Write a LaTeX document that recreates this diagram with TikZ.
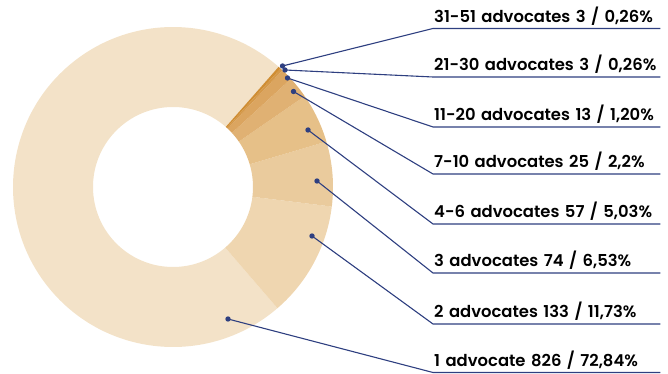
\documentclass[tikz,border=0pt]{standalone}
\usepackage{fontspec}
\setmainfont{Poppins}[BoldFont={Poppins SemiBold}]
\definecolor{sliceA}{HTML}{F3E2C8}
\definecolor{sliceB}{HTML}{EFD6B0}
\definecolor{sliceC}{HTML}{EACB9D}
\definecolor{sliceD}{HTML}{E6C088}
\definecolor{sliceE}{HTML}{E0B173}
\definecolor{sliceF}{HTML}{DBA560}
\definecolor{sliceG}{HTML}{D5994A}
\definecolor{sliceH}{HTML}{CF8D33}
\definecolor{leadblue}{HTML}{2E3F80}
\tikzset{
  lead/.style={draw=leadblue,line width=1.1pt},
  label/.style={anchor=south west,text width=225pt,inner xsep=1pt,inner ysep=6pt,
    text depth=0pt,font=\fontsize{16.4}{19}\selectfont\bfseries,text=black},
}
\begin{document}
\begin{tikzpicture}[x=1pt,y=1pt]
        \useasboundingbox (0,0) rectangle (668,374);
        %% Donut
        \begin{scope}[shift={(173,187)}]
        \fill[sliceA] (-49.256:160) arc[start angle=-49.256,end angle=-311.3,radius=160]
            -- (-311.3:80) arc[start angle=-311.3,end angle=-49.256,radius=80] -- cycle;
        \fill[sliceB] (-7.028:160) arc[start angle=-7.028,end angle=-49.256,radius=160]
            -- (-49.256:80) arc[start angle=-49.256,end angle=-7.028,radius=80] -- cycle;
        \fill[sliceC] (16.48:160) arc[start angle=16.48,end angle=-7.028,radius=160]
            -- (-7.028:80) arc[start angle=-7.028,end angle=16.48,radius=80] -- cycle;
        \fill[sliceD] (34.588:160) arc[start angle=34.588,end angle=16.48,radius=160]
            -- (16.48:80) arc[start angle=16.48,end angle=34.588,radius=80] -- cycle;
        \fill[sliceE] (42.508:160) arc[start angle=42.508,end angle=34.588,radius=160]
            -- (34.588:80) arc[start angle=34.588,end angle=42.508,radius=80] -- cycle;
        \fill[sliceF] (46.828:160) arc[start angle=46.828,end angle=42.508,radius=160]
            -- (42.508:80) arc[start angle=42.508,end angle=46.828,radius=80] -- cycle;
        \fill[sliceG] (47.764:160) arc[start angle=47.764,end angle=46.828,radius=160]
            -- (46.828:80) arc[start angle=46.828,end angle=47.764,radius=80] -- cycle;
        \fill[sliceH] (48.7:160) arc[start angle=48.7,end angle=47.764,radius=160]
            -- (47.764:80) arc[start angle=47.764,end angle=48.7,radius=80] -- cycle;
        \end{scope}
        %% Points on the slices
        \coordinate (dot31) at (282.5,308);
        \coordinate (dot21) at (285,304);
        \coordinate (dot11) at (287.5,296);
        \coordinate (dot7) at (293.5,282.5);
        \coordinate (dot4) at (308,244);
        \coordinate (dot3) at (317,193);
        \coordinate (dot2) at (312,138);
        \coordinate (dot1) at (228,55);
        %% Labels
        \node[label] (lab31) at (433,345.5) {31-51 advocates 3 / 0,26\%};
        \node[label] (lab21) at (433,297) {21-30 advocates 3 / 0,26\%};
        \node[label] (lab11) at (433,247) {11-20 advocates 13 / 1,20\%};
        \node[label] (lab7) at (433,200) {7-10 advocates 25 / 2,2\%};
        \node[label] (lab4) at (433,150) {4-6 advocates 57 / 5,03\%};
        \node[label] (lab3) at (433,101) {3 advocates 74 / 6,53\%};
        \node[label] (lab2) at (433,50) {2 advocates 133 / 11,73\%};
        \node[label] (lab1) at (433,1.5) {1 advocate 826 / 72,84\%};
        %% Leaders
        \draw[lead] (dot31) -- (lab31.south west) -- (lab31.south east);
        \draw[lead] (dot21) -- (lab21.south west) -- (lab21.south east);
        \draw[lead] (dot11) -- (lab11.south west) -- (lab11.south east);
        \draw[lead] (dot7) -- (lab7.south west) -- (lab7.south east);
        \draw[lead] (dot4) -- (lab4.south west) -- (lab4.south east);
        \draw[lead] (dot3) -- (lab3.south west) -- (lab3.south east);
        \draw[lead] (dot2) -- (lab2.south west) -- (lab2.south east);
        \draw[lead] (dot1) -- (lab1.south west) -- (lab1.south east);
            \fill[leadblue] (dot31) circle [radius=2.7pt];
            \fill[leadblue] (dot21) circle [radius=2.7pt];
            \fill[leadblue] (dot11) circle [radius=2.7pt];
            \fill[leadblue] (dot7) circle [radius=2.7pt];
            \fill[leadblue] (dot4) circle [radius=2.7pt];
            \fill[leadblue] (dot3) circle [radius=2.7pt];
            \fill[leadblue] (dot2) circle [radius=2.7pt];
            \fill[leadblue] (dot1) circle [radius=2.7pt];
    \end{tikzpicture}
\end{document}
